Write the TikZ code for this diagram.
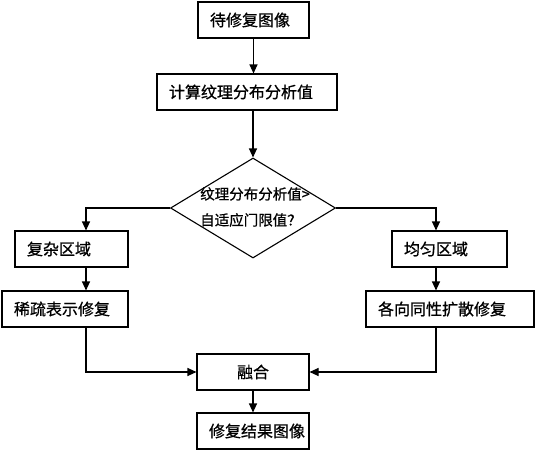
\documentclass[tikz,border=0pt]{standalone}
\usepackage{fontspec}
\setmainfont{Noto Sans CJK SC}[FakeBold=0.8]
\usetikzlibrary{arrows.meta,shapes.geometric}

\begin{document}
\begin{tikzpicture}[
  x=1pt,y=-1pt,
  flow/.style={-{Triangle[length=9pt,width=8pt]},line width=1.1pt},
  box/.style={draw,line width=1.1pt,minimum height=36pt,inner xsep=12pt,inner ysep=0pt,
    align=left,font=\fontsize{16pt}{19pt}\selectfont},
  decision/.style={draw,line width=1.1pt,diamond,aspect=1.65,minimum width=165pt,
    minimum height=100pt,inner sep=0pt}
]
\useasboundingbox (0,0) rectangle (535,450);
\node[box,text width=87pt] (img) at (253.5,20) {待修复图像};
\node[box,text width=156pt] (calc) at (247,92) {计算纹理分布分析值};
\node[decision] (judge) at (253,208) {};
\node[align=left,inner sep=0pt,font=\fontsize{14.5pt}{26pt}\selectfont] (judgetext) at (255,207)
  {纹理分布分析值>\\自适应门限值？};
\node[box,text width=89pt] (complex) at (71.5,249) {复杂区域};
\node[box,text width=102pt] (sparse) at (65,309) {稀疏表示修复};
\node[box,text width=91pt] (uniform) at (449.5,249) {均匀区域};
\node[box,text width=144pt] (iso) at (450,309) {各向同性扩散修复};
\node[box,text width=88pt,align=center] (fuse) at (253,372) {融合};
\node[box,text width=88pt,align=center] (result) at (253,431) {修复结果图像};
% columns of the two branches
\coordinate (lcol) at (86,0);
\coordinate (rcol) at (436,0);
\draw[flow] (img.south) -- (img.south |- calc.north);
\draw[flow] (judge.north |- calc.south) -- (judge.north);
\draw[flow] (judge.west) -| (lcol |- complex.north);
\draw[flow] (judge.east) -| (rcol |- uniform.north);
\draw[flow] (lcol |- complex.south) -- (lcol |- sparse.north);
\draw[flow] (rcol |- uniform.south) -- (rcol |- iso.north);
\draw[flow] (lcol |- sparse.south) |- (fuse.west);
\draw[flow] (rcol |- iso.south) |- (fuse.east);
\draw[flow] (fuse.south) -- (result.north);
\end{tikzpicture}
\end{document}
